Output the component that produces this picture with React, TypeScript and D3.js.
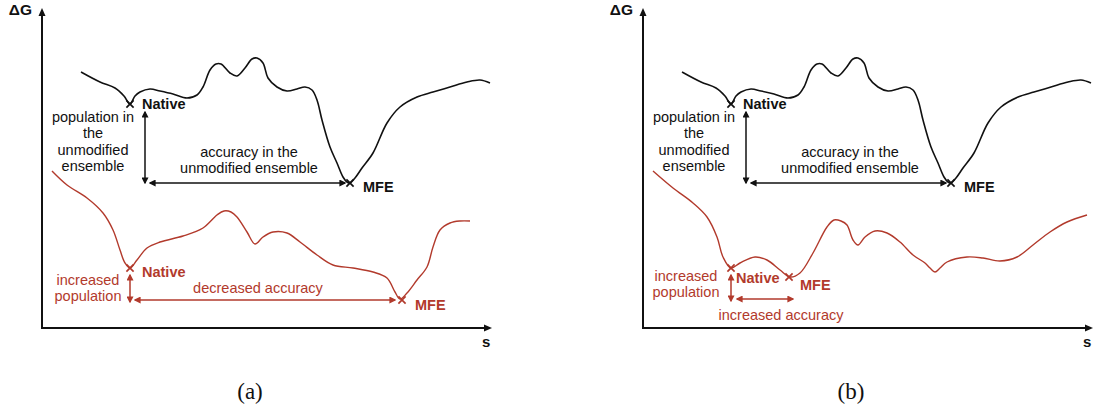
import React from 'react';
import * as d3 from 'd3';

// Data in chart units: s (reaction coordinate), g (ΔG)
const S_DOMAIN: [number, number] = [0, 450];
const G_DOMAIN: [number, number] = [0, 320];

const unmodifiedCurve: [number, number][] = [
  [39, 256], [58, 246], [73, 240], [82, 232], [88, 224], [93, 232], [98, 236], [108, 239],
  [118, 237], [131, 234], [145, 230], [155, 233], [161, 241], [168, 258], [174, 264], [179, 264],
  [188, 255], [195, 252], [203, 260], [210, 269], [215, 270], [221, 265], [226, 250], [235, 241],
  [245, 237], [255, 239], [263, 241], [270, 238], [275, 228], [280, 208], [288, 181],
  [295, 165], [301, 151], [305, 146], [308, 145], [313, 150], [320, 160], [331, 175],
  [345, 205], [358, 221], [375, 231], [391, 236], [408, 241], [425, 246], [438, 248], [448, 245],
];

const modifiedCurveA: [number, number][] = [
  [10, 157], [25, 143], [45, 130], [61, 115], [71, 98], [78, 78], [83, 65], [88, 60],
  [95, 68], [105, 80], [118, 86], [141, 92], [161, 100], [175, 113], [182, 117], [189, 116], [195, 111],
  [205, 96], [213, 84], [221, 91], [231, 96], [245, 95], [258, 86], [275, 73], [291, 63],
  [311, 60], [331, 56], [345, 50], [353, 36], [358, 29], [365, 35], [375, 48], [385, 61],
  [391, 81], [398, 98], [408, 105], [418, 107], [428, 107],
];

const modifiedCurveB: [number, number][] = [
  [10, 157], [30, 140], [50, 125], [64, 111], [74, 91], [80, 71], [88, 60], [97, 65],
  [112, 71], [124, 68], [137, 58], [147, 51], [157, 55], [170, 75], [184, 101], [191, 108], [198, 107],
  [204, 103], [210, 88], [215, 83], [222, 91], [232, 97], [244, 95], [257, 86], [270, 73],
  [282, 65], [287, 60], [292, 56], [297, 60], [304, 66], [324, 71], [340, 70], [357, 67],
  [374, 71], [390, 83], [407, 96], [424, 106], [444, 113],
];

// Marked minima
const unmodifiedNative: [number, number] = [88, 224];
const unmodifiedMFE: [number, number] = [308, 145];
const modifiedNativeA: [number, number] = [88, 60];
const modifiedMFEA: [number, number] = [360, 28];
const modifiedNativeB: [number, number] = [88, 60];
const modifiedMFEB: [number, number] = [146, 51];

const panelLabels = ['(a)', '(b)'];
const BLACK = '#111';
const RED = '#b23a2c';
const SANS = '"Liberation Sans", Arial, Helvetica, sans-serif';
const FS = 14.5;

type Label = { text: string; s: number; g: number; anchor: 'start' | 'middle' | 'end'; bold?: boolean; color: string };
type Arrow = { s1: number; g1: number; s2: number; g2: number; color: string };

const commonLabels: Label[] = [
  { text: 'population in', s: 51, g: 206.5, anchor: 'middle', color: BLACK },
  { text: 'the', s: 51, g: 190, anchor: 'middle', color: BLACK },
  { text: 'unmodified', s: 51, g: 173.5, anchor: 'middle', color: BLACK },
  { text: 'ensemble', s: 51, g: 157, anchor: 'middle', color: BLACK },
  { text: 'accuracy in the', s: 207, g: 171.5, anchor: 'middle', color: BLACK },
  { text: 'unmodified ensemble', s: 207, g: 155.5, anchor: 'middle', color: BLACK },
  { text: 'Native', s: 100, g: 219, anchor: 'start', bold: true, color: BLACK },
  { text: 'MFE', s: 321, g: 136.5, anchor: 'start', bold: true, color: BLACK },
];
const commonArrows: Arrow[] = [
  { s1: 103, g1: 216, s2: 103, g2: 145, color: BLACK },
  { s1: 108, g1: 145, s2: 303, g2: 145, color: BLACK },
];

const labelsA: Label[] = [
  { text: 'Native', s: 100, g: 51, anchor: 'start', bold: true, color: RED },
  { text: 'MFE', s: 373, g: 18.5, anchor: 'start', bold: true, color: RED },
  { text: 'increased', s: 46, g: 43, anchor: 'middle', color: RED },
  { text: 'population', s: 46, g: 27, anchor: 'middle', color: RED },
  { text: 'decreased accuracy', s: 216, g: 35, anchor: 'middle', color: RED },
];
const arrowsA: Arrow[] = [
  { s1: 88, g1: 53, s2: 88, g2: 26, color: RED },
  { s1: 93, g1: 28, s2: 353, g2: 28, color: RED },
];
const labelsB: Label[] = [
  { text: 'Native', s: 93, g: 45, anchor: 'start', bold: true, color: RED },
  { text: 'MFE', s: 157, g: 38, anchor: 'start', bold: true, color: RED },
  { text: 'increased', s: 43, g: 47, anchor: 'middle', color: RED },
  { text: 'population', s: 43, g: 31, anchor: 'middle', color: RED },
  { text: 'increased accuracy', s: 138, g: 8, anchor: 'middle', color: RED },
];
const arrowsB: Arrow[] = [
  { s1: 88, g1: 53, s2: 88, g2: 27, color: RED },
  { s1: 94, g1: 29, s2: 150, g2: 29, color: RED },
];

function Cross({ x, y, color }: { x: number; y: number; color: string }) {
  const r = 3.6;
  return (
    <g stroke={color} strokeWidth={1.7}>
      <line x1={x - r} y1={y - r} x2={x + r} y2={y + r} />
      <line x1={x - r} y1={y + r} x2={x + r} y2={y - r} />
    </g>
  );
}

function Panel({ axisX, idx, red, nativeRed, mfeRed, labels, arrows }: {
  axisX: number; idx: number; red: [number, number][]; nativeRed: [number, number]; mfeRed: [number, number];
  labels: Label[]; arrows: Arrow[];
}) {
  const x = d3.scaleLinear().domain(S_DOMAIN).range([axisX, axisX + 450]);
  const y = d3.scaleLinear().domain(G_DOMAIN).range([328, 8]);
  const line = d3.line<[number, number]>().x(d => x(d[0])).y(d => y(d[1])).curve(d3.curveCatmullRom.alpha(0.5));
  const allLabels = [...commonLabels, ...labels];
  const allArrows = [...commonArrows, ...arrows];
  return (
    <g>
      {/* axes */}
      <line x1={x(0)} y1={y(0)} x2={x(0)} y2={y(320) + 7} stroke={BLACK} strokeWidth={2} />
      <path d={`M${x(0)},${y(320)} L${x(0) - 3.5},${y(320) + 8} L${x(0) + 3.5},${y(320) + 8} Z`} fill={BLACK} />
      <line x1={x(0) - 1} y1={y(0)} x2={x(450) - 7} y2={y(0)} stroke={BLACK} strokeWidth={2} />
      <path d={`M${x(450)},${y(0)} L${x(450) - 8},${y(0) - 3.5} L${x(450) - 8},${y(0) + 3.5} Z`} fill={BLACK} />
      <text x={x(-10)} y={y(313)} textAnchor="end" fontFamily={SANS} fontWeight="bold" fontSize={15.5} fill={BLACK}>ΔG</text>
      <text x={x(440)} y={y(-19)} textAnchor="start" fontFamily={SANS} fontWeight="bold" fontSize={15} fill={BLACK}>s</text>

      {/* curves */}
      <path d={line(unmodifiedCurve) || ''} fill="none" stroke={BLACK} strokeWidth={1.6} />
      <path d={line(red) || ''} fill="none" stroke={RED} strokeWidth={1.4} />

      <Cross x={x(unmodifiedNative[0])} y={y(unmodifiedNative[1])} color={BLACK} />
      <Cross x={x(unmodifiedMFE[0])} y={y(unmodifiedMFE[1])} color={BLACK} />
      <Cross x={x(nativeRed[0])} y={y(nativeRed[1])} color={RED} />
      <Cross x={x(mfeRed[0])} y={y(mfeRed[1])} color={RED} />

      {allArrows.map((a, i) => (
        <line key={i} x1={x(a.s1)} y1={y(a.g1)} x2={x(a.s2)} y2={y(a.g2)} stroke={a.color} strokeWidth={1.5}
          markerStart={`url(#ah-${a.color === RED ? 'r' : 'k'})`} markerEnd={`url(#ah-${a.color === RED ? 'r' : 'k'})`} />
      ))}

      {allLabels.map((l, i) => (
        <text key={i} x={x(l.s)} y={y(l.g)} textAnchor={l.anchor} fontFamily={SANS} fontSize={FS}
          fontWeight={l.bold ? 'bold' : 'normal'} fill={l.color}>{l.text}</text>
      ))}

      <text x={x(208)} y={y(-71)} textAnchor="middle" fontFamily='"Liberation Serif", "Times New Roman", serif' fontSize={23} fill={BLACK}>{panelLabels[idx]}</text>
    </g>
  );
}

export default function App() {
  return (
    <svg width={1100} height={410} style={{ position: 'absolute', left: 0, top: 0, background: '#fff' }}>
      <defs>
        {[['k', BLACK], ['r', RED]].map(([id, c]) => (
          <marker key={id} id={`ah-${id}`} viewBox="0 0 10 10" refX="8" refY="5" markerWidth="7" markerHeight="7"
            markerUnits="userSpaceOnUse" orient="auto-start-reverse">
            <path d="M0,0 L10,5 L0,10 Z" fill={c} />
          </marker>
        ))}
      </defs>
      <rect width={1100} height={410} fill="#fff" />
      <Panel axisX={42} idx={0} red={modifiedCurveA} nativeRed={modifiedNativeA} mfeRed={modifiedMFEA} labels={labelsA} arrows={arrowsA} />
      <Panel axisX={643} idx={1} red={modifiedCurveB} nativeRed={modifiedNativeB} mfeRed={modifiedMFEB} labels={labelsB} arrows={arrowsB} />
    </svg>
  );
}
